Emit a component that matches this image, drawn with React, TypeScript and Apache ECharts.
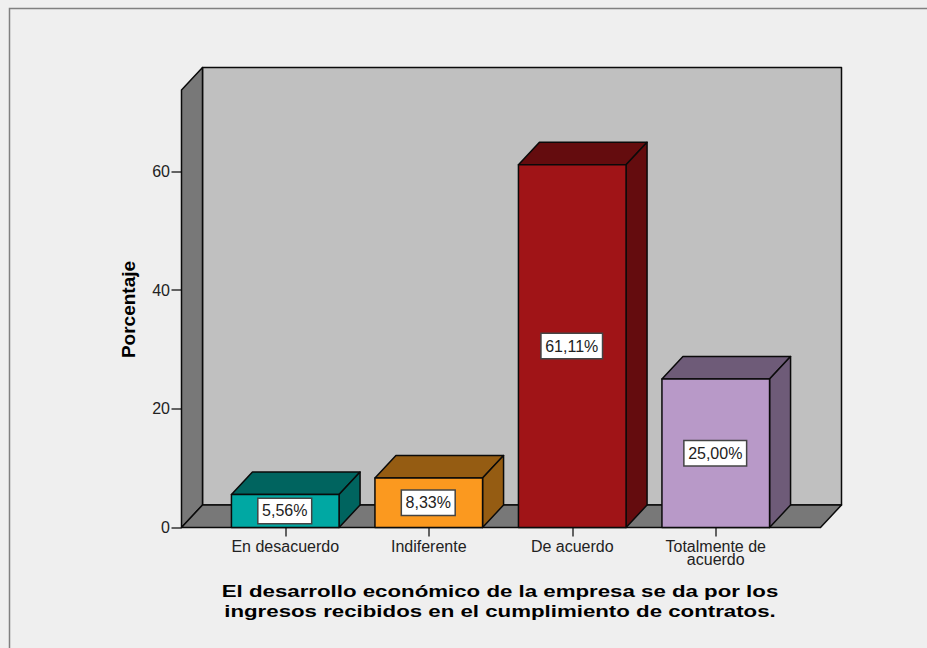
import React, { useEffect, useRef } from "react";
import * as echarts from "echarts";

const categories = ["En desacuerdo", "Indiferente", "De acuerdo", "Totalmente de\nacuerdo"];
const percentages = [5.56, 8.33, 61.11, 25.0];
const yTicks = [0, 20, 40, 60];
const frontColors = ["#00a8a3", "#fb991f", "#a01417", "#b899c8"];
const shadeColors = ["#00645f", "#955c12", "#640c0e", "#6e5b78"];
const xTitle = "El desarrollo económico de la empresa se da por los\ningresos recibidos en el cumplimiento de contratos.";
const yTitle = "Porcentaje";

const DX = 21;
const DY = 22.5;
const OUT = "#0a0a0a";
const SANS = "'Liberation Sans', Arial, sans-serif";

export default function App() {
  const ref = useRef<HTMLDivElement>(null);
  useEffect(() => {
    const chart = echarts.init(ref.current!, null, { renderer: "svg" });
    chart.setOption({
      animation: false,
      backgroundColor: "#efefef",
      graphic: [
        { type: "rect", silent: true, z: 0, shape: { x: 9.5, y: 8.5, width: 1000, height: 800 }, style: { fill: "none", stroke: "#808080", lineWidth: 1.5 } },
        { type: "text", x: 128, y: 309.5, rotation: Math.PI / 2, z: 5, style: { text: yTitle, align: "center", verticalAlign: "middle", fontFamily: SANS, fontWeight: "bold", fontSize: 19, fill: "#000" } },
        { type: "text", x: 500, y: 601, scaleX: 1.31, z: 5, style: { text: xTitle, align: "center", verticalAlign: "middle", fontFamily: SANS, fontWeight: "bold", fontSize: 17, lineHeight: 20, fill: "#000" } },
      ],
      grid: { left: 213.5, top: 90, width: 574, height: 437.5 },
      xAxis: {
        type: "category",
        data: categories,
        axisLine: { show: false },
        axisTick: { show: true, alignWithLabel: true, length: 9, lineStyle: { color: "#333", width: 1.5 } },
        axisLabel: { margin: 12, fontFamily: SANS, fontSize: 16, lineHeight: 13, color: "#222", interval: 0, verticalAlign: "top" },
      },
      yAxis: {
        type: "value",
        min: 0,
        max: 73.7,
        interval: 20,
        offset: 32,
        splitLine: { show: false },
        axisLine: { show: false },
        axisTick: { show: true, length: 10, customValues: yTicks, lineStyle: { color: "#333", width: 1.5 } },
        axisLabel: { margin: 11.5, fontFamily: SANS, fontSize: 16, color: "#222", customValues: yTicks },
      },
      series: [
        {
          type: "custom",
          coordinateSystem: "cartesian2d",
          silent: true,
          z: 1,
          data: [[0, 0]],
          renderItem: (params: any) => {
            const c = params.coordSys;
            const x0 = c.x - 32;
            const x1 = c.x + c.width + 33;
            const yTop = c.y;
            const yBot = c.y + c.height;
            const line = { stroke: OUT, lineWidth: 1.5, lineJoin: "round" };
            return {
              type: "group",
              children: [
                { type: "polygon", shape: { points: [[x0 + DX, yTop - DY], [x1 + DX, yTop - DY], [x1 + DX, yBot - DY], [x0 + DX, yBot - DY]] }, style: { fill: "#c0c0c0", ...line } },
                { type: "polygon", shape: { points: [[x0, yTop], [x0 + DX, yTop - DY], [x0 + DX, yBot - DY], [x0, yBot]] }, style: { fill: "#787878", ...line } },
                { type: "polygon", shape: { points: [[x0, yBot], [x0 + DX, yBot - DY], [x1 + DX, yBot - DY], [x1, yBot]] }, style: { fill: "#787878", ...line } },
              ],
            };
          },
        },
        {
          type: "custom",
          coordinateSystem: "cartesian2d",
          silent: true,
          z: 2,
          encode: { x: 0, y: 1 },
          data: percentages.map((v, i) => [i, v]),
          renderItem: (params: any, api: any) => {
            const i = api.value(0);
            const v = api.value(1);
            const top = api.coord([i, v]);
            const base = api.coord([i, 0]);
            const w = api.size([1, 0])[0] * 0.75;
            const l = top[0] - w / 2;
            const r = top[0] + w / 2;
            const line = { stroke: OUT, lineWidth: 1.5, lineJoin: "round" };
            const shade = shadeColors[params.dataIndex];
            return {
              type: "group",
              children: [
                { type: "polygon", shape: { points: [[l, top[1]], [l + DX, top[1] - DY], [r + DX, top[1] - DY], [r, top[1]]] }, style: { fill: shade, ...line } },
                { type: "polygon", shape: { points: [[r, top[1]], [r + DX, top[1] - DY], [r + DX, base[1] - DY], [r, base[1]]] }, style: { fill: shade, ...line } },
                { type: "polygon", shape: { points: [[l, top[1]], [r, top[1]], [r, base[1]], [l, base[1]]] }, style: { fill: frontColors[params.dataIndex], ...line } },
                {
                  type: "text",
                  x: top[0] - 0.5,
                  y: (top[1] + base[1]) / 2,
                  style: {
                    text: v.toFixed(2).replace(".", ",") + "%",
                    align: "center",
                    verticalAlign: "middle",
                    fontFamily: SANS,
                    fontSize: 16,
                    fill: "#222",
                    backgroundColor: "#fff",
                    borderColor: "#444",
                    borderWidth: 1.5,
                    padding: [4, 3.5, 4, 3.5],
                  },
                },
              ],
            };
          },
        },
      ],
    });
    return () => chart.dispose();
  }, []);
  return <div ref={ref} style={{ position: "absolute", left: 0, top: 0, width: 927, height: 648 }} />;
}
